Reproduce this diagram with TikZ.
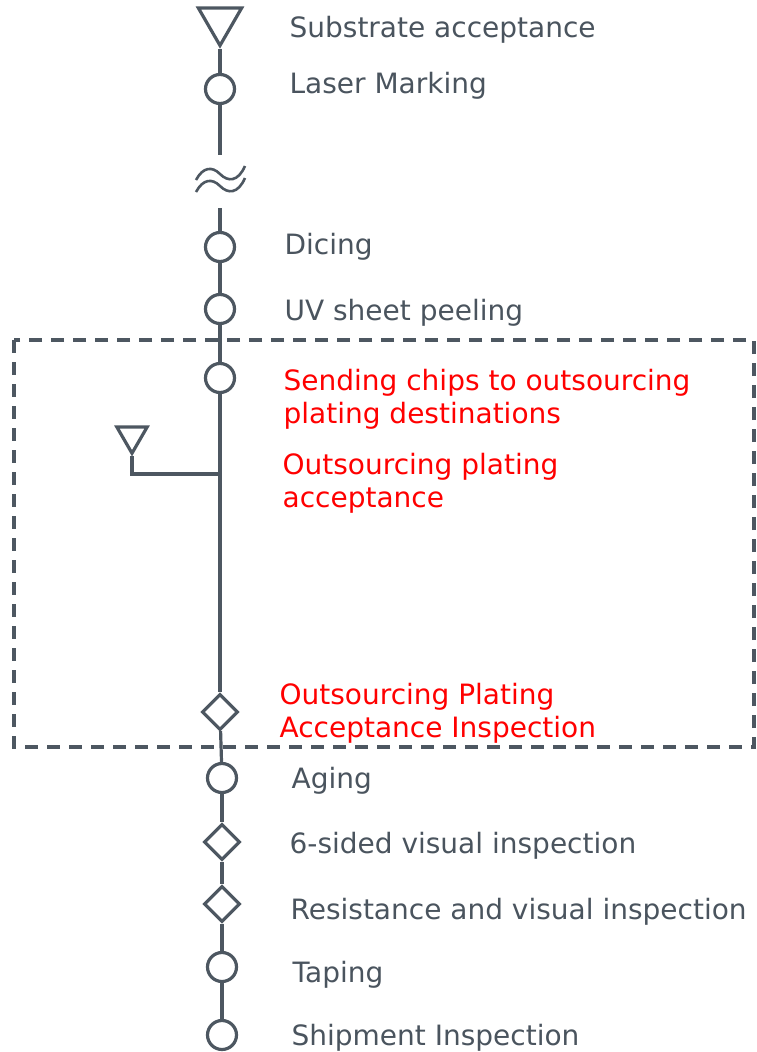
\documentclass[tikz,border=0pt]{standalone}
\usepackage{fontspec}
\setmainfont{DejaVu Sans}
\usetikzlibrary{shapes.geometric}
\definecolor{linegray}{HTML}{4D5761}
\definecolor{textgray}{HTML}{4A545E}
\definecolor{outred}{HTML}{FF0000}

\begin{document}
\begin{tikzpicture}[x=1pt,y=-1pt,line width=3.2pt]
\useasboundingbox (0,0) rectangle (756,1052);

\begin{scope}[every node/.style={draw=linegray,line width=3.2pt,inner sep=0pt}]
    \node[regular polygon,regular polygon sides=3,shape border rotate=180,minimum size=50pt] (T1) at (220,20.5) {};
    \node[circle,minimum size=29pt] (C1) at (220,89) {};
    \node[circle,minimum size=29pt] (C2) at (220,247) {};
    \node[circle,minimum size=29pt] (C3) at (220,309) {};
    \node[circle,minimum size=29pt] (C4) at (220,378) {};
    \node[regular polygon,regular polygon sides=3,shape border rotate=180,minimum size=35pt] (T2) at (132,435.75) {};
    \node[diamond,minimum size=36pt] (D1) at (220,712) {};
    \node[circle,minimum size=29pt] (C5) at (222,778) {};
    \node[diamond,minimum size=36pt] (D2) at (222,842) {};
    \node[diamond,minimum size=36pt] (D3) at (222,904) {};
    \node[circle,minimum size=29pt] (C6) at (222,967) {};
    \node[circle,minimum size=29pt] (C7) at (222,1035) {};
\end{scope}

\coordinate (cut1) at (220,155);
\coordinate (cut2) at (220,208);
\coordinate (J) at (220,474);

\begin{scope}[every edge/.style={draw=linegray,line width=3.2pt}]
    \path (T1) edge (C1);
    \path (C1) edge (cut1);
    \path (cut2) edge (C2);
    \path (C2) edge (C3);
    \path (C3) edge (C4);
    \path (C4) edge (D1);
    \path (D1) edge (C5);
    \path (C5) edge (D2);
    \path (D2) edge (D3);
    \path (D3) edge (C6);
    \path (C6) edge (C7);
\end{scope}
\draw[linegray] (T2) |- (J);

% omitted section
\draw[linegray,line width=2.6pt] (196,180) .. controls (203,167) and (212,166) .. (220,174) .. controls (228,182) and (238,182) .. (245,166);
\draw[linegray,line width=2.6pt] (196,192) .. controls (203,179) and (212,178) .. (220,186) .. controls (228,194) and (238,194) .. (245,178);

\draw[linegray,dash pattern=on 13pt off 9pt] (14,340) rectangle (754,747);

\begin{scope}[every node/.style={anchor=west,inner sep=0pt,text=textgray,align=left,font=\fontsize{28}{33}\selectfont}]
    \node (L1) at (288,30) {Substrate acceptance};
    \node (L2) at (288,86) {Laser Marking};
    \node (L3) at (283,247) {Dicing};
    \node (L4) at (283,313) {UV sheet peeling};
    \node[text=outred] (L5) at (282,399) {Sending chips to outsourcing\\plating destinations};
    \node[text=outred] (L6) at (281,483) {Outsourcing plating\\acceptance};
    \node[text=outred] (L7) at (278,713) {Outsourcing Plating\\Acceptance Inspection};
    \node (L8) at (290,781) {Aging};
    \node (L9) at (288,846) {6-sided visual inspection};
    \node (L10) at (289,912) {Resistance and visual inspection};
    \node (L11) at (291,975) {Taping};
    \node (L12) at (290,1038) {Shipment Inspection};
\end{scope}
\end{tikzpicture}
\end{document}
